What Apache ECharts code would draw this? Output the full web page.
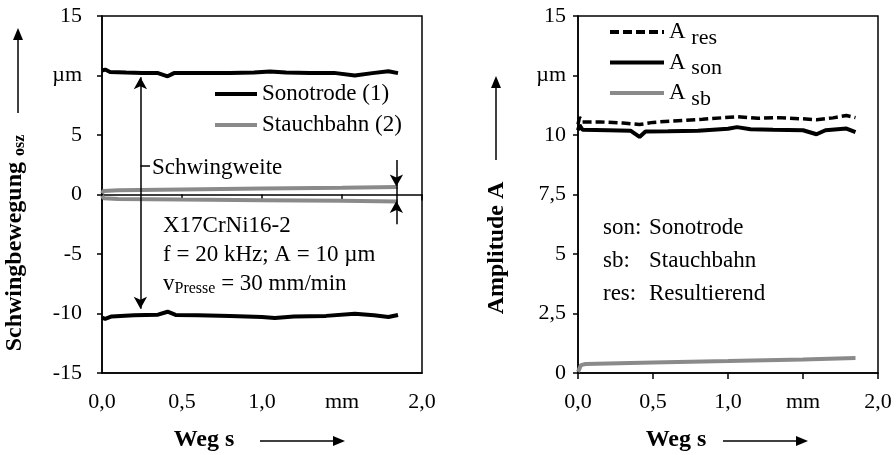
<!DOCTYPE html>
<html>
<head>
<meta charset="utf-8">
<script src="https://cdn.jsdelivr.net/npm/echarts@6/dist/echarts.min.js"></script>
<style>
  html, body { margin: 0; padding: 0; background: #fff; }
  #chart { width: 896px; height: 455px; }
</style>
</head>
<body>
<div id="chart"></div>
<script>
const FONT = '"Liberation Serif", "Times New Roman", serif';
const GRAY = "#8a8a8a";

// left panel: Schwingbewegung (envelope of oscillation)
const sonoUpper = [
  [0.0, 10.42], [0.02, 10.5], [0.05, 10.3], [0.15, 10.25], [0.25, 10.22],
  [0.35, 10.2], [0.41, 9.93], [0.45, 10.2], [0.6, 10.22], [0.8, 10.2],
  [0.95, 10.25], [1.05, 10.34], [1.15, 10.25], [1.3, 10.2], [1.45, 10.22],
  [1.58, 10.0], [1.69, 10.2], [1.79, 10.35], [1.85, 10.2],
];
const sonoLower = [
  [0.0, -10.35], [0.02, -10.45], [0.06, -10.25], [0.2, -10.15], [0.35, -10.1],
  [0.41, -9.85], [0.46, -10.12], [0.6, -10.15], [0.8, -10.2], [1.0, -10.3],
  [1.08, -10.38], [1.2, -10.25], [1.4, -10.2], [1.58, -10.02], [1.7, -10.15],
  [1.79, -10.3], [1.85, -10.12],
];
const sbUpper = [
  [0.0, 0.1], [0.01, 0.3], [0.1, 0.36], [0.5, 0.43], [1.0, 0.5], [1.5, 0.56], [1.85, 0.62],
];
const sbLower = [
  [0.0, -0.1], [0.01, -0.32], [0.1, -0.37], [0.5, -0.43], [1.0, -0.48], [1.5, -0.53], [1.85, -0.58],
];

// right panel: Amplitude
const ampRes = [
  [0.0, 10.45], [0.01, 10.75], [0.03, 10.55], [0.15, 10.55], [0.3, 10.5],
  [0.41, 10.44], [0.5, 10.53], [0.61, 10.58], [0.83, 10.66], [1.06, 10.77],
  [1.2, 10.7], [1.33, 10.73], [1.5, 10.68], [1.59, 10.64], [1.7, 10.72],
  [1.79, 10.82], [1.85, 10.73],
];
const ampSon = [
  [0.0, 10.2], [0.01, 10.42], [0.03, 10.22], [0.2, 10.2], [0.35, 10.18],
  [0.41, 9.92], [0.45, 10.15], [0.6, 10.16], [0.8, 10.18], [1.0, 10.26],
  [1.06, 10.33], [1.15, 10.24], [1.3, 10.22], [1.5, 10.2], [1.59, 10.03],
  [1.65, 10.2], [1.79, 10.27], [1.85, 10.12],
];
const ampSb = [
  [0.0, 0.05], [0.02, 0.33], [0.05, 0.38], [0.5, 0.44], [1.0, 0.5], [1.5, 0.57], [1.85, 0.63],
];

const xTickLabels = { 0: "0,0", 0.5: "0,5", 1: "1,0", 1.5: "mm", 2: "2,0" };
const leftYLabels = { 15: "15", 10: "µm", 5: "5", 0: "0", "-5": "-5", "-10": "-10", "-15": "-15" };
const rightYLabels = { 15: "15", 12.5: "µm", 10: "10", 7.5: "7,5", 5: "5", 2.5: "2,5", 0: "0" };
const ampSubs = { A_res: "res", A_son: "son", A_sb: "sb" };

const axisText = { fontFamily: FONT, fontSize: 22, color: "#000" };
const blackLine = { color: "#000", width: 1.5 };

function arrow(x1, y1, x2, y2) {
  const dx = x2 - x1, dy = y2 - y1;
  const len = Math.sqrt(dx * dx + dy * dy);
  const ux = dx / len, uy = dy / len;
  const hl = 12, hw = 5;
  const bx = x2 - ux * hl, by = y2 - uy * hl;
  return {
    type: "group",
    children: [
      { type: "line", shape: { x1, y1, x2: bx, y2: by }, style: { stroke: "#000", lineWidth: 1.5 } },
      {
        type: "polygon",
        shape: { points: [[x2, y2], [bx - uy * hw, by + ux * hw], [bx + uy * hw, by - ux * hw]] },
        style: { fill: "#000" },
      },
    ],
  };
}

const chart = echarts.init(document.getElementById("chart"));

const option = {
  animation: false,
  backgroundColor: "#fff",
  grid: [
    { left: 102, right: 474, top: 16, bottom: 82, show: true, borderColor: "#000", borderWidth: 1.5 },
    { left: 578, right: 18, top: 16, bottom: 82, show: true, borderColor: "#000", borderWidth: 1.5 },
  ],
  xAxis: [
    {
      gridIndex: 0, type: "value", min: 0, max: 2, interval: 0.5, position: "bottom",
      axisLine: { onZero: false, lineStyle: blackLine },
      axisTick: { show: false },
      splitLine: { show: false },
      axisLabel: { ...axisText, margin: 18, formatter: (v) => xTickLabels[v] },
    },
    {
      gridIndex: 0, type: "value", min: 0, max: 2, interval: 0.5, position: "bottom",
      axisLine: { onZero: true, lineStyle: blackLine },
      axisTick: { show: true, length: 6, lineStyle: blackLine },
      splitLine: { show: false },
      axisLabel: { show: false },
    },
    {
      gridIndex: 1, type: "value", min: 0, max: 2, interval: 0.5, position: "bottom",
      axisLine: { lineStyle: blackLine },
      axisTick: { show: true, length: 6, lineStyle: blackLine },
      splitLine: { show: false },
      axisLabel: { ...axisText, margin: 18, formatter: (v) => xTickLabels[v] },
    },
  ],
  yAxis: [
    {
      gridIndex: 0, type: "value", min: -15, max: 15, interval: 5,
      axisLine: { show: true, lineStyle: blackLine },
      axisTick: { show: true, length: 5, lineStyle: blackLine },
      splitLine: { show: false },
      axisLabel: { ...axisText, margin: 20, formatter: (v) => leftYLabels[v] },
    },
    {
      gridIndex: 1, type: "value", min: 0, max: 15, interval: 2.5,
      axisLine: { show: true, lineStyle: blackLine },
      axisTick: { show: true, length: 5, lineStyle: blackLine },
      splitLine: { show: false },
      axisLabel: { ...axisText, margin: 12, formatter: (v) => rightYLabels[v] },
    },
  ],
  legend: [
    {
      data: ["Sonotrode (1)", "Stauchbahn (2)"],
      orient: "vertical", left: 213, top: 81, padding: 0,
      itemWidth: 42, itemHeight: 10, itemGap: 5,
      itemStyle: { opacity: 0 },
      lineStyle: { width: 4 },
      textStyle: { fontFamily: FONT, fontSize: 23, color: "#000", lineHeight: 26 },
      selectedMode: false,
    },
    {
      data: ["A_res", "A_son", "A_sb"],
      orient: "vertical", left: 608, top: 15, padding: 0,
      itemWidth: 54, itemHeight: 10, itemGap: -3.5,
      itemStyle: { opacity: 0 },
      lineStyle: { width: 4 },
      selectedMode: false,
      formatter: (name) => "{a|A} {s|" + ampSubs[name] + "}",
      textStyle: {
        fontFamily: FONT, fontSize: 23, color: "#000",
        rich: {
          a: { fontFamily: FONT, fontSize: 23, color: "#000", lineHeight: 23 },
          s: { fontFamily: FONT, fontSize: 22, color: "#000", lineHeight: 22, padding: [12, 0, 0, 0] },
        },
      },
    },
  ],
  series: [
    {
      name: "Sonotrode (1)", type: "line", xAxisIndex: 0, yAxisIndex: 0,
      data: sonoUpper, symbol: "none", lineStyle: { color: "#000", width: 4 }, itemStyle: { color: "#000" },
      markLine: {
        silent: true, animation: false,
        lineStyle: { color: "#000", width: 1.5, type: "solid" },
        symbolSize: [10, 12],
        label: { show: false },
        data: [
          [{ coord: [0.24, 9.85], symbol: "arrow" }, { coord: [0.24, -9.6], symbol: "arrow" }],
          [
            { coord: [0.24, 2.45], symbol: "none" },
            {
              coord: [0.3, 2.45], symbol: "none",
              label: { show: true, position: "end", distance: 2, offset: [0, 3], formatter: "Schwingweite", fontFamily: FONT, fontSize: 23, color: "#000" },
            },
          ],
          [{ coord: [1.84, 2.9], symbol: "none" }, { coord: [1.84, 0.68], symbol: "arrow" }],
          [{ coord: [1.84, 0.68], symbol: "none" }, { coord: [1.84, -0.55], symbol: "none" }],
          [{ coord: [1.84, -2.5], symbol: "none" }, { coord: [1.84, -0.55], symbol: "arrow" }],
        ],
      },
    },
    {
      name: "Sonotrode (1)", type: "line", xAxisIndex: 0, yAxisIndex: 0,
      data: sonoLower, symbol: "none", lineStyle: { color: "#000", width: 4 }, itemStyle: { color: "#000" },
    },
    {
      name: "Stauchbahn (2)", type: "line", xAxisIndex: 0, yAxisIndex: 0,
      data: sbUpper, symbol: "none", lineStyle: { color: GRAY, width: 4 }, itemStyle: { color: GRAY },
    },
    {
      name: "Stauchbahn (2)", type: "line", xAxisIndex: 0, yAxisIndex: 0,
      data: sbLower, symbol: "none", lineStyle: { color: GRAY, width: 4 }, itemStyle: { color: GRAY },
    },
    {
      name: "A_res", type: "line", xAxisIndex: 2, yAxisIndex: 1,
      data: ampRes, symbol: "none", lineStyle: { color: "#000", width: 3.5, type: [9, 4] }, itemStyle: { color: "#000" },
    },
    {
      name: "A_son", type: "line", xAxisIndex: 2, yAxisIndex: 1,
      data: ampSon, symbol: "none", lineStyle: { color: "#000", width: 4 }, itemStyle: { color: "#000" },
    },
    {
      name: "A_sb", type: "line", xAxisIndex: 2, yAxisIndex: 1,
      data: ampSb, symbol: "none", lineStyle: { color: GRAY, width: 4 }, itemStyle: { color: GRAY },
    },
  ],
  graphic: [
    // axis titles
    {
      type: "text", x: 15, y: 243, rotation: Math.PI / 2,
      style: {
        text: "Schwingbewegung {s|osz}",
        fontFamily: FONT, fontSize: 24, fontWeight: "bold", fill: "#000",
        align: "center", verticalAlign: "middle",
        rich: { s: { fontFamily: FONT, fontSize: 16, fontWeight: "bold", fill: "#000", padding: [10, 0, 0, 0] } },
      },
    },
    {
      type: "text", x: 497, y: 248, rotation: Math.PI / 2,
      style: {
        text: "Amplitude A", fontFamily: FONT, fontSize: 24, fontWeight: "bold", fill: "#000",
        align: "center", verticalAlign: "middle",
      },
    },
    {
      type: "text", x: 204, y: 440,
      style: { text: "Weg s", fontFamily: FONT, fontSize: 24, fontWeight: "bold", fill: "#000", align: "center", verticalAlign: "middle" },
    },
    {
      type: "text", x: 676, y: 440,
      style: { text: "Weg s", fontFamily: FONT, fontSize: 24, fontWeight: "bold", fill: "#000", align: "center", verticalAlign: "middle" },
    },
    arrow(18, 113, 18, 28),
    arrow(496, 160, 496, 76),
    arrow(260, 441, 345, 441),
    arrow(723, 441, 808, 441),
    // annotation texts
    {
      type: "text", x: 163, y: 211,
      style: {
        text: "X17CrNi16-2\nf = 20 kHz; A = 10 µm\nv{sub|Presse} = 30 mm/min",
        fontFamily: FONT, fontSize: 23, fill: "#000", lineHeight: 29,
        rich: { sub: { fontFamily: FONT, fontSize: 16, fill: "#000", lineHeight: 16, padding: [10, 0, 0, 0] } },
      },
    },
    {
      type: "text", x: 603, y: 211,
      style: {
        text: "{k|son:}Sonotrode\n{k|sb:}Stauchbahn\n{k|res:}Resultierend",
        fontFamily: FONT, fontSize: 23, fill: "#000", lineHeight: 33,
        rich: { k: { fontFamily: FONT, fontSize: 23, fill: "#000", width: 46, lineHeight: 33 } },
      },
    },
  ],
};

chart.setOption(option);
</script>
</body>
</html>
